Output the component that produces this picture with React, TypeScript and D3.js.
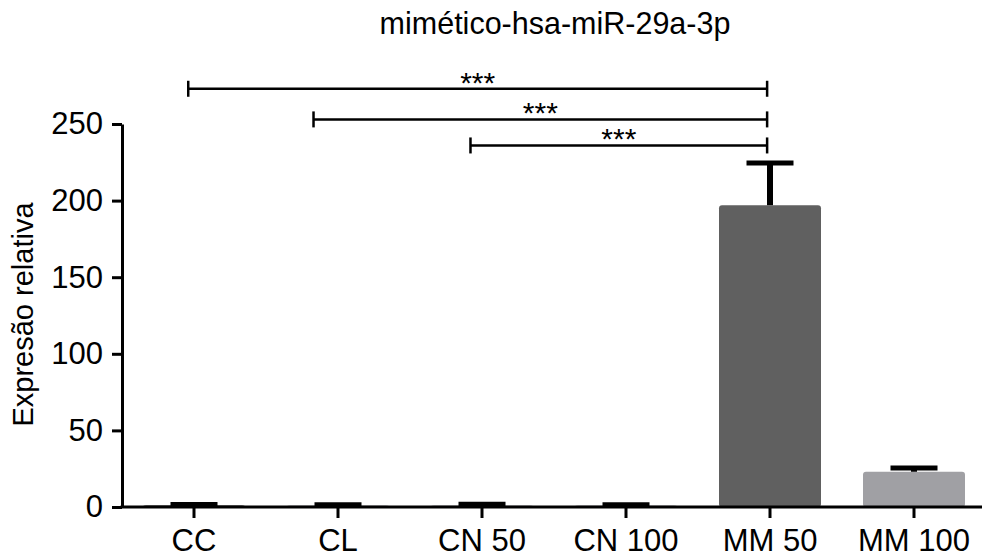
import React, { useRef, useEffect } from "react"
import * as d3 from "d3"

const categories = ["CC", "CL", "CN 50", "CN 100", "MM 50", "MM 100"]
const means = [1, 1, 1, 1, 197, 23]
const errors = [0.6, 0.5, 0.8, 0.5, 27.5, 2.5]
const barColors = ["#000000", "#a0a0a4", "#a0a0a4", "#a0a0a4", "#606060", "#a0a0a4"]
const yTicks = [0, 50, 100, 150, 200, 250]

// significance brackets: start/end as fractional category index, level in y units
const brackets = [
  { from: -0.04, to: 3.98, level: 273, label: "***" },
  { from: 0.83, to: 3.98, level: 253, label: "***" },
  { from: 1.92, to: 3.98, level: 236, label: "***" },
]

const W = 982
const H = 558
const font = "Liberation Sans, Arial, sans-serif"

const App = () => {
  const ref = useRef<SVGSVGElement>(null)

  useEffect(() => {
    if (!ref.current) return
    const svg = d3.select(ref.current)
    svg.selectAll("*").remove()

    const x0 = 122
    const idx = d3.scaleLinear().domain([0, 5]).range([194, 914])
    const y = d3.scaleLinear().domain([0, 250]).range([507, 124])
    const barW = 102

    // title
    svg.append("text")
      .attr("x", 555).attr("y", 34)
      .attr("text-anchor", "middle")
      .attr("font-family", font).attr("font-size", 30.5)
      .text("mimético-hsa-miR-29a-3p")

    // y title
    svg.append("text")
      .attr("transform", `translate(33,${y(125) - 1}) rotate(-90)`)
      .attr("text-anchor", "middle")
      .attr("font-family", font).attr("font-size", 29)
      .text("Expresão relativa")

    // bars
    svg.append("g").selectAll("rect")
      .data(means)
      .join("rect")
      .attr("x", (d, i) => idx(i) - barW / 2)
      .attr("y", d => y(d))
      .attr("width", barW)
      .attr("height", d => y(0) - y(d))
      .attr("rx", 3)
      .attr("fill", (d, i) => barColors[i])

    // error bars (upper only)
    const eb = svg.append("g").attr("stroke", "#000")
    means.forEach((m, i) => {
      const cx = idx(i)
      eb.append("line")
        .attr("x1", cx).attr("x2", cx)
        .attr("y1", y(m)).attr("y2", y(m + errors[i]))
        .attr("stroke-width", 6)
      eb.append("line")
        .attr("x1", cx - 23.5).attr("x2", cx + 23.5)
        .attr("y1", y(m + errors[i])).attr("y2", y(m + errors[i]))
        .attr("stroke-width", 5)
    })

    // y axis
    const yAxis = svg.append("g")
      .attr("transform", `translate(${x0},0)`)
      .call(d3.axisLeft(y).tickValues(yTicks).tickSize(10).tickSizeOuter(0).tickPadding(9))
    yAxis.select(".domain").attr("stroke-width", 3)
    yAxis.selectAll(".tick line").attr("stroke-width", 3)
    yAxis.selectAll("text").attr("font-family", font).attr("font-size", 31).attr("fill", "#000")

    // x axis
    svg.append("line")
      .attr("x1", x0 - 1.5).attr("x2", W)
      .attr("y1", y(0)).attr("y2", y(0))
      .attr("stroke", "#000").attr("stroke-width", 3)
    const xg = svg.append("g")
    categories.forEach((c, i) => {
      xg.append("line")
        .attr("x1", idx(i)).attr("x2", idx(i))
        .attr("y1", y(0)).attr("y2", y(0) + 11)
        .attr("stroke", "#000").attr("stroke-width", 3)
      xg.append("text")
        .attr("x", idx(i)).attr("y", 551)
        .attr("text-anchor", "middle")
        .attr("font-family", font).attr("font-size", 31)
        .text(c)
    })

    // significance brackets
    const bg = svg.append("g")
    brackets.forEach(b => {
      const x1 = idx(b.from)
      const x2 = idx(b.to)
      const yy = y(b.level)
      bg.append("line").attr("x1", x1).attr("x2", x2).attr("y1", yy).attr("y2", yy)
        .attr("stroke", "#000").attr("stroke-width", 2.5)
      ;[x1, x2].forEach(xx => {
        bg.append("line").attr("x1", xx).attr("x2", xx).attr("y1", yy - 8).attr("y2", yy + 8)
          .attr("stroke", "#000").attr("stroke-width", 2.5)
      })
      bg.append("text")
        .attr("x", (x1 + x2) / 2).attr("y", yy + 4)
        .attr("text-anchor", "middle")
        .attr("font-family", font).attr("font-size", 30)
        .text(b.label)
    })
  }, [])

  return (
    <svg
      ref={ref}
      width={W}
      height={H}
      style={{ position: "absolute", left: 0, top: 0, background: "#fff" }}
    />
  )
}

export default App
